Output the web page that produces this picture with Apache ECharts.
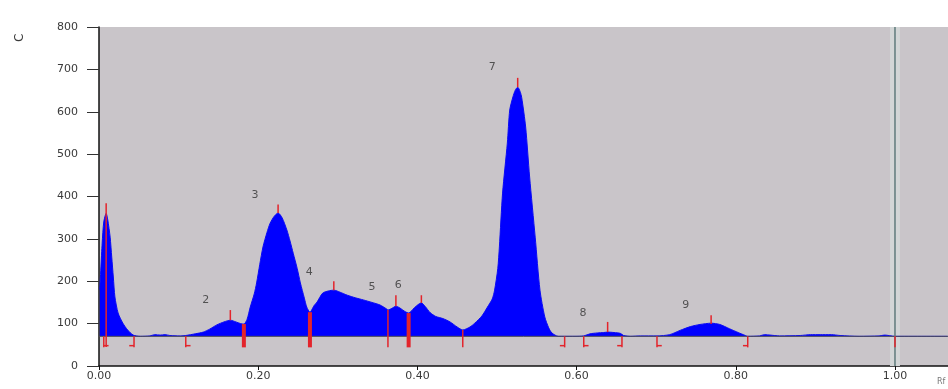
<!DOCTYPE html>
<html>
<head>
<meta charset="utf-8">
<script src="https://cdn.jsdelivr.net/npm/echarts@6/dist/echarts.min.js"></script>
<style>html,body{margin:0;padding:0;background:#fff}#c{width:948px;height:389px}</style>
</head>
<body>
<div id="c"></div>
<script>
// ---- data ----
const rf = [0.001,0.004,0.006,0.009,0.011,0.014,0.016,0.018,0.020,0.024,0.030,0.036,0.043,0.052,0.064,0.070,0.077,0.083,0.089,0.102,0.109,0.121,0.131,0.139,0.148,0.157,0.165,0.172,0.178,0.182,0.186,0.190,0.195,0.198,0.202,0.206,0.211,0.215,0.220,0.225,0.230,0.236,0.240,0.244,0.249,0.253,0.258,0.261,0.265,0.270,0.274,0.281,0.288,0.295,0.303,0.312,0.322,0.332,0.343,0.353,0.361,0.363,0.368,0.373,0.378,0.384,0.389,0.396,0.401,0.405,0.410,0.416,0.423,0.432,0.441,0.450,0.457,0.466,0.472,0.481,0.488,0.494,0.497,0.501,0.503,0.507,0.513,0.516,0.520,0.523,0.526,0.529,0.531,0.536,0.541,0.548,0.554,0.560,0.565,0.569,0.577,0.585,0.598,0.609,0.617,0.626,0.634,0.639,0.647,0.655,0.659,0.668,0.680,0.701,0.717,0.730,0.743,0.755,0.769,0.780,0.792,0.803,0.812,0.815,0.830,0.836,0.843,0.855,0.881,0.894,0.906,0.920,0.931,0.955,0.980,0.987,1.000,1.066];
const signal = [180,290,340,360,345,304,257,210,163,125,101,85,73,70,71,74,73,74,72,71,72,76,80,87,97,104,108,104,100,99,110,139,170,196,240,281,315,337,353,361,350,321,295,266,230,196,160,139,127,142,151,172,177,179,174,167,161,156,150,144,135,132,136,141,137,129,125,137,145,149,140,126,117,112,104,92,85,92,101,118,139,158,179,230,281,408,526,604,635,651,658,648,634,564,446,304,179,116,90,78,70,70,70,71,76,78,79,80,79,77,72,70,71,71,74,84,93,98,101,98,88,79,72,70,71,74,73,71,72,74,74,74,72,70,71,73,70,70];
const baselineValue = 70;
const yTicks = [0,100,200,300,400,500,600,700,800];
const xTickLabels = ['0.00','0.20','0.40','0.60','0.80','1.00'];

const peakNames = ['2','3','4','5','6','7','8','9'];
const peakLabelRf = [0.134,0.196,0.264,0.343,0.376,0.494,0.608,0.737];
const peakLabelY = [156,403,222,186,191,705,125,144];

const peakTickRf = [0.009,0.165,0.225,0.295,0.373,0.405,0.526,0.639,0.769];
const peakTickFrom = [45,108,361,179,141,149,658,80,99];
const peakTickTo = [384,132,381,200,167,167,680,104,120];

const thickDropRf = [0.182,0.265,0.389];
const thickDropTop = [99,127,125];
const thinDropRf = [0.363,0.457];
const thinDropTop = [132,85];

const bracketRf = [0.006,0.044,0.109,0.585,0.609,0.657,0.701,0.815,1.000];
const bracketSide = [1,-1,1,-1,1,-1,1,-1,0];
const markerBottom = 44;

// ---- build segments ----
const thinSegs = [];
for (let i=0;i<peakTickRf.length;i++) thinSegs.push([peakTickRf[i],peakTickFrom[i],peakTickRf[i],peakTickTo[i]]);
for (let i=0;i<thinDropRf.length;i++) thinSegs.push([thinDropRf[i],thinDropTop[i],thinDropRf[i],markerBottom]);
for (let i=0;i<bracketRf.length;i++){
  thinSegs.push([bracketRf[i],baselineValue,bracketRf[i],markerBottom]);
  if (bracketSide[i]!==0) thinSegs.push([bracketRf[i],markerBottom+4,bracketRf[i]+bracketSide[i]*0.006,markerBottom+4]);
}
const thickSegs = thickDropRf.map((x,i)=>[x,thickDropTop[i],x,markerBottom]);

function segRender(width){
  return function(params, api){
    const p1 = api.coord([api.value(0), api.value(1)]);
    const p2 = api.coord([api.value(2), api.value(3)]);
    return {type:'line', shape:{x1:p1[0],y1:p1[1],x2:p2[0],y2:p2[1]},
      style:{stroke:'#e3242b', lineWidth:width}};
  };
}

const chart = echarts.init(document.getElementById('c'), null, {renderer:'canvas'});
const font = 'DejaVu Sans';
chart.setOption({
  animation:false,
  backgroundColor:'#ffffff',
  grid:{left:99,right:0,top:27,bottom:23,show:true,backgroundColor:'#c9c5c9',borderWidth:0},
  xAxis:{type:'value',min:0,max:1.0666,interval:0.2,
    axisLine:{show:true,onZero:false,lineStyle:{color:'#111',width:1.5}},
    axisTick:{show:true,length:4,lineStyle:{color:'#111'}},
    axisLabel:{color:'#3a3a3a',fontFamily:font,fontSize:11,margin:5,showMaxLabel:false,
      formatter:v=>{const i=Math.round(v/0.2);return xTickLabels[i]!==undefined?xTickLabels[i]:'';}},
    splitLine:{show:false}},
  yAxis:{type:'value',min:0,max:800,interval:100,
    axisLine:{show:true,lineStyle:{color:'#111',width:1.5}},
    axisTick:{show:true,length:12,lineStyle:{color:'#333'}},
    axisLabel:{color:'#3a3a3a',fontFamily:font,fontSize:11,margin:21,
      formatter:v=>yTicks.includes(v)?String(v):''},
    splitLine:{show:false}},
  graphic:[
    {type:'text',x:14,y:42,rotation:Math.PI/2,style:{text:'C',fill:'#3a3a3a',font:'12px DejaVu Sans'}},
    {type:'text',x:937,y:378,style:{text:'Rf',fill:'#777',font:'8px DejaVu Sans'}}
  ],
  series:[
    {type:'line',data:[[1,0],[1,800]],symbol:'none',silent:true,
      lineStyle:{color:'#d2d6d6',width:10},z:1},
    {type:'line',data:rf.map((x,i)=>[x,signal[i]]),symbol:'none',smooth:0.25,
      lineStyle:{color:'#0a0af5',width:1},
      areaStyle:{color:'#0000ff',opacity:1,origin:baselineValue},z:2},
    {type:'line',data:[[0,baselineValue],[1.0666,baselineValue]],symbol:'none',
      lineStyle:{color:'#4a4a55',width:1},z:3},
    {type:'line',data:[[1,0],[1,800]],symbol:'none',
      lineStyle:{color:'#5f7b7c',width:1.5},z:3},
    {type:'custom',renderItem:segRender(1.5),data:thinSegs,z:4},
    {type:'custom',renderItem:segRender(4),data:thickSegs,z:4},
    {type:'scatter',symbolSize:0,z:5,
      data:peakLabelRf.map((x,i)=>({value:[x,peakLabelY[i]],name:peakNames[i]})),
      label:{show:true,position:'inside',formatter:p=>p.name,color:'#333',fontFamily:font,fontSize:11}}
  ]
});
</script>
</body>
</html>
